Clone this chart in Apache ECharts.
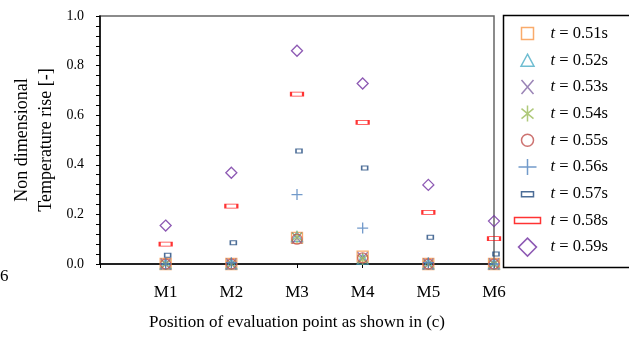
<!DOCTYPE html>
<html>
<head>
<meta charset="utf-8">
<script src="https://cdn.jsdelivr.net/npm/echarts@6/dist/echarts.min.js"></script>
<style>
  html, body { margin: 0; padding: 0; background: #fff; }
  #main { width: 629px; height: 343px; }
</style>
</head>
<body>
<div id="main"></div>
<script>
// evaluation points M1..M6 sit at x = 1..6 on the axis
var points = ['M1', 'M2', 'M3', 'M4', 'M5', 'M6'];
var times = ['0.51', '0.52', '0.53', '0.54', '0.55', '0.56', '0.57', '0.58', '0.59'];
var yTicks = [0, 0.2, 0.4, 0.6, 0.8, 1.0];

var t051 = [0, 0, 0.105, 0.03, 0, 0];
var t052 = [0, 0, 0.11, 0.02, 0, 0];
var t053 = [0, 0, 0.105, 0.025, 0, 0];
var t054 = [0, 0, 0.11, 0.02, 0, 0];
var t055 = [0, 0, 0.10, 0.025, 0, 0];
var t056 = [0, 0.005, 0.28, 0.145, 0.005, 0];
var t057 = [0.035, 0.086, 0.456, 0.387, 0.108, 0.04];
var t058 = [0.08, 0.233, 0.685, 0.571, 0.208, 0.102];
var t059 = [0.155, 0.368, 0.86, 0.728, 0.319, 0.173];
var values = [t051, t052, t053, t054, t055, t056, t057, t058, t059];

var font = '"Liberation Serif", "Times New Roman", serif';

// marker look per series: plot symbol, plot size, legend icon (31x18 box), colour
var marks = [
  {sym: 'path://M0 0h10v10h-10z', size: [11, 11], icon: 'M7 3h12v12h-12z', color: '#F79646'},
  {sym: 'path://M5 0L10 9H0z', size: [11, 10], icon: 'M13 3L19.5 15H6.5z', color: '#4BACC6'},
  {sym: 'path://M0 0L10 10M10 0L0 10', size: [10, 11], icon: 'M7 2L19 16M19 2L7 16', color: '#8064A2'},
  {sym: 'path://M5 0V12M0 2L10 10M10 2L0 10', size: [10, 12], icon: 'M13 1V17M7 4L19 14M19 4L7 14', color: '#9BBB59'},
  {sym: 'path://M0 5a5 5 0 1 0 10 0a5 5 0 1 0 -10 0', size: [10, 10], icon: 'M7 9a6 6 0 1 0 12 0a6 6 0 1 0 -12 0', color: '#C0504D'},
  {sym: 'path://M5 0V10M0 5H10', size: [11, 11], icon: 'M13 1V17M4 9H22', color: '#4F81BD'},
  {sym: 'path://M0 0h12v6h-12z', size: [6, 4], icon: 'M7 7h12v5h-12z', color: '#1F497D', offset: [2, 0]},
  {sym: 'path://M0 0h12v4h-12z', size: [12, 4], icon: 'M0 6h26v6h-26z', color: '#FF0000'},
  {sym: 'path://M5 0L10 5L5 10L0 5z', size: [11, 11], icon: 'M13 0L22 9L13 18L4 9z', color: '#7030A0'}
];

var series = [];
var legendData = [];
for (var i = 0; i < times.length; i++) {
  var name = 't = ' + times[i] + 's';
  var st = {color: 'none', borderColor: marks[i].color, borderWidth: 1.3};
  series.push({
    name: name,
    type: 'scatter',
    symbol: marks[i].sym,
    symbolSize: marks[i].size,
    symbolOffset: marks[i].offset || [0, 0],
    itemStyle: st,
    data: values[i].map(function (v, k) { return [k + 1, v]; })
  });
  legendData.push({
    name: name,
    icon: 'path://M0 0M31 18' + marks[i].icon,
    itemStyle: {color: 'none', borderColor: marks[i].color, borderWidth: 1.5}
  });
}

var chart = echarts.init(document.getElementById('main'));
chart.setOption({
  animation: false,
  backgroundColor: '#fff',
  grid: {
    left: 100, right: 135, top: 16, bottom: 79,
    show: true, borderColor: '#666', borderWidth: 1.5,
    outerBoundsMode: 'none'
  },
  legend: {
    orient: 'vertical',
    left: 503, top: 13,
    padding: [9, 20, 9, 9],
    itemWidth: 31, itemHeight: 18, itemGap: 3.7,
    data: legendData,
    formatter: function (n) { return '{i|t}' + n.slice(1); },
    textStyle: {
      fontFamily: font, fontSize: 16.5, color: '#000',
      rich: {i: {fontFamily: font, fontSize: 16.5, fontStyle: 'italic', color: '#000'}}
    }
  },
  xAxis: {
    type: 'value', min: 0, max: 6, interval: 1,
    name: 'Position of evaluation point as shown in (c)',
    nameLocation: 'middle', nameGap: 50,
    nameTextStyle: {fontFamily: font, fontSize: 17, color: '#000'},
    axisLine: {lineStyle: {color: '#000', width: 1.5}},
    axisTick: {show: true, length: 4, lineStyle: {color: '#000'}},
    splitLine: {show: false},
    axisLabel: {
      margin: 20, fontFamily: font, fontSize: 17, color: '#000',
      formatter: function (v) { return v >= 1 ? points[v - 1] : ''; }
    }
  },
  yAxis: {
    type: 'value', min: yTicks[0], max: yTicks[yTicks.length - 1], interval: 0.2,
    name: 'Non dimensional\nTemperature rise [-]',
    nameLocation: 'middle', nameGap: 42, nameRotate: 90, nameMoveOverlap: false,
    nameTextStyle: {fontFamily: font, fontSize: 18, color: '#000', lineHeight: 24},
    axisLine: {show: true, lineStyle: {color: '#000', width: 1.5}},
    axisTick: {show: true, length: 4, lineStyle: {color: '#000'}},
    minorTick: {show: true, splitNumber: 5, length: 4, lineStyle: {color: '#000'}},
    splitLine: {show: false},
    axisLabel: {
      margin: 16, fontFamily: font, fontSize: 14, color: '#000',
      formatter: function (v) { return v.toFixed(1); }
    }
  },
  graphic: [
    // legend frame, runs off the right edge like in the source figure
    {type: 'rect', left: 501, top: 13, z: -1, silent: true,
     shape: {width: 150, height: 252},
     style: {fill: 'none', stroke: '#000', lineWidth: 1.5}},
    {type: 'text', left: 0, top: 268, style: {text: '6', font: '17px ' + font, fill: '#000'}}
  ],
  series: series
});
</script>
</body>
</html>
